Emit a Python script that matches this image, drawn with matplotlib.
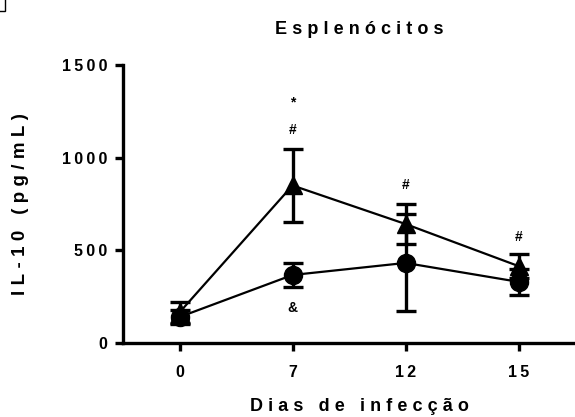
import numpy as np
import matplotlib
matplotlib.use("Agg")
import matplotlib.pyplot as plt
from matplotlib.patches import Rectangle

plt.rcParams['font.family'] = ['Liberation Sans', 'DejaVu Sans']
plt.rcParams['font.weight'] = 'bold'

# days post infection (categorical positions)
days = ['0', '7', '12', '15']

# IL-10 levels, mean and SEM
circle_mean = [140, 367, 432, 330]
circle_sem = [40, 63, 262, 70]
triangle_mean = [165, 850, 642, 415]
triangle_sem = [55, 198, 108, 65]

# significance marks: (day index, y, symbol)
marks = [(1, 1300, '*'), (1, 1150, '#'), (1, 190, '&'), (2, 850, '#'), (3, 570, '#')]

yticks = [0, 500, 1000, 1500]


def spaced(s, gap='\u2009'):
    # wide letter tracking like the original software output
    return gap.join(s)


wide = '\u2009\u200a'

fig = plt.figure(figsize=(5.75, 4.17), dpi=100)
ax = fig.add_axes([123 / 575, 1 - 343 / 417, (595 - 123) / 575, (343 - 65) / 417])

x = np.arange(len(days))

ax.errorbar(x, triangle_mean, yerr=triangle_sem, color='black', marker='^',
            markersize=13, lw=1.6, elinewidth=2.4, capsize=7.5, capthick=2.4, zorder=3)
ax.errorbar(x, circle_mean, yerr=circle_sem, color='black', marker='o',
            markersize=13, lw=1.6, elinewidth=2.4, capsize=7.5, capthick=2.4, zorder=3)

for i, yv, sym in marks:
    ax.text(x[i], yv, sym, ha='center', va='center', fontsize=10, fontweight='bold')

ax.set_xlim(-0.5, -0.5 + (595 - 123) / 113)
ax.set_ylim(0, 1500)
ax.set_xticks(x)
ax.set_xticklabels([spaced(d) for d in days])
ax.set_yticks(yticks)
ax.set_yticklabels([spaced(str(t)) for t in yticks])

for side in ['top', 'right']:
    ax.spines[side].set_visible(False)
for side in ['left', 'bottom']:
    ax.spines[side].set_linewidth(2.4)

ax.tick_params(axis='both', direction='out', length=6, width=2.4, labelsize=11.5, pad=5)
ax.tick_params(axis='x', pad=10)

ax.set_title(spaced('Esplenócitos', wide), fontsize=13, fontweight='bold', pad=22)
ax.set_xlabel(spaced('Dias de infecção', wide), fontsize=13, fontweight='bold', labelpad=13)
ax.set_ylabel(spaced('IL-10 (pg/mL)', wide), fontsize=13.5, fontweight='bold', labelpad=24)

# small corner box at top left
fig.patches.append(Rectangle((-0.01, 1 - 11 / 417), 11 / 575, 0.05, transform=fig.transFigure,
                             fill=False, edgecolor='black', lw=1))

fig.savefig('out.png', dpi=100)
